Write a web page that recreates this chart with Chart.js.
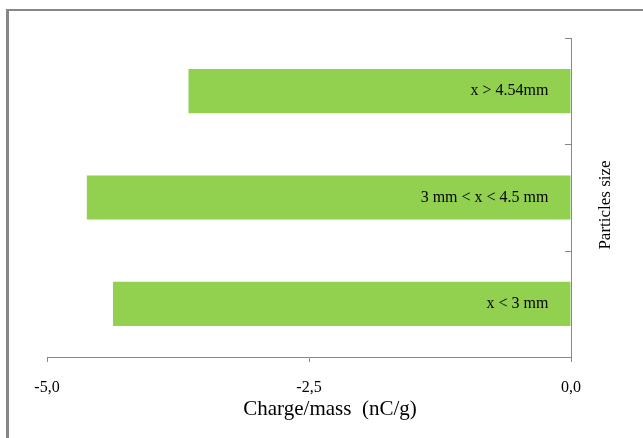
<!DOCTYPE html>
<html>
<head>
<meta charset="utf-8">
<script src="https://cdn.jsdelivr.net/npm/chart.js@4/dist/chart.umd.min.js"></script>
<style>
  html, body { margin: 0; padding: 0; background: #fff; }
  #chart { display: block; }
</style>
</head>
<body>
<canvas id="chart" width="643" height="438"></canvas>
<script>
// data (top bar first)
const sizeClasses = ['x > 4.54mm', '3 mm < x < 4.5 mm', 'x < 3 mm'];
const chargeMass = [-3.65, -4.62, -4.37];
const xTicks = [-5, -2.5, 0];

const xTitle = 'Charge/mass  (nC/g)';
const yTitle = 'Particles size';

const FONT = '"Liberation Serif", "Times New Roman", serif';
const AXIS_GRAY = '#888888';

// frame, category ticks, labels inside the bars and the axis titles
const decorations = {
    id: 'decorations',
    beforeDraw(chart) {
        const ctx = chart.ctx;
        ctx.save();
        ctx.fillStyle = '#878787';
        ctx.fillRect(6, 9, 3, chart.height);
        ctx.fillRect(6, 9, chart.width, 2);
        ctx.restore();
    },
    afterDraw(chart) {
        const ctx = chart.ctx;
        const y = chart.scales.y;
        const x = chart.scales.x;
        ctx.save();

        // ticks between the categories, pointing inwards
        const bounds = [y.top];
        for (let i = 0; i < sizeClasses.length - 1; i++) {
            bounds.push((y.getPixelForValue(i) + y.getPixelForValue(i + 1)) / 2);
        }
        bounds.push(y.bottom);
        ctx.strokeStyle = AXIS_GRAY;
        ctx.lineWidth = 1;
        bounds.forEach(b => {
            const py = Math.round(b) + 0.5;
            ctx.beginPath();
            ctx.moveTo(x.right - 6, py);
            ctx.lineTo(x.right, py);
            ctx.stroke();
        });

        // labels inside the bars
        ctx.fillStyle = '#000';
        ctx.font = '16px ' + FONT;
        ctx.textAlign = 'right';
        ctx.textBaseline = 'middle';
        chart.getDatasetMeta(0).data.forEach((bar, i) => {
            ctx.fillText(sizeClasses[i], bar.base - 22, bar.y);
        });

        // x title
        ctx.font = '21px ' + FONT;
        ctx.textAlign = 'center';
        ctx.fillText(xTitle, 330, 409);

        // y title, reading bottom to top
        ctx.translate(606, 205);
        ctx.rotate(-Math.PI / 2);
        ctx.font = '17px ' + FONT;
        ctx.fillText(yTitle, 0, 0);
        ctx.restore();
    }
};

new Chart(document.getElementById('chart'), {
    type: 'bar',
    data: {
        labels: sizeClasses,
        datasets: [{
            data: chargeMass,
            backgroundColor: '#92d050',
            borderWidth: 0,
            barPercentage: 0.415,
            categoryPercentage: 1
        }]
    },
    options: {
        indexAxis: 'y',
        responsive: false,
        animation: false,
        layout: {
            padding: { left: 47, top: 38, right: 0, bottom: 0 }
        },
        plugins: {
            legend: { display: false },
            tooltip: { enabled: false }
        },
        scales: {
            x: {
                min: -5,
                max: 0,
                afterFit: scale => { scale.height = 81; },
                afterBuildTicks: scale => {
                    scale.ticks = xTicks.map(v => ({ value: v }));
                },
                ticks: {
                    color: '#000',
                    font: { family: FONT, size: 16 },
                    padding: 16,
                    maxRotation: 0,
                    callback: v => v.toFixed(1).replace('.', ',')
                },
                grid: {
                    drawOnChartArea: false,
                    tickLength: 5,
                    color: AXIS_GRAY
                },
                border: { color: AXIS_GRAY, width: 1 }
            },
            y: {
                position: 'right',
                afterFit: scale => { scale.width = 72; },
                ticks: { display: false },
                grid: { display: false },
                border: { color: AXIS_GRAY, width: 1 }
            }
        }
    },
    plugins: [decorations]
});
</script>
</body>
</html>
